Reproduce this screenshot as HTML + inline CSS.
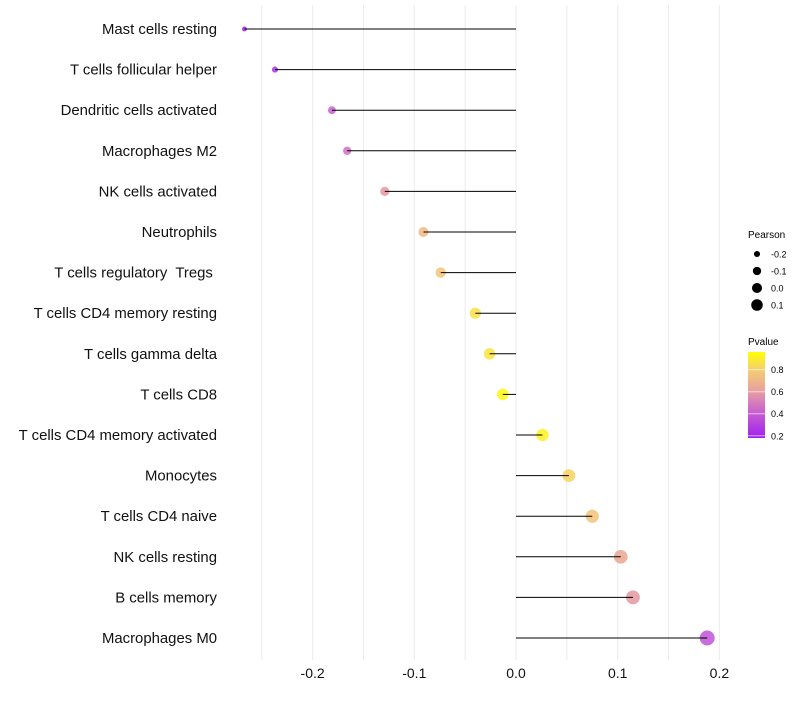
<!DOCTYPE html>
<html><head><meta charset="utf-8"><style>
body{margin:0;background:#fff;font-family:"Liberation Sans",sans-serif}
text{white-space:pre}
</style></head><body>
<svg id="chart" width="800" height="700" xmlns="http://www.w3.org/2000/svg">
<defs><linearGradient id="pg" x1="0" y1="1" x2="0" y2="0">
<stop offset="0" stop-color="#a020f0"/><stop offset="0.3" stop-color="#c860d0"/><stop offset="0.55" stop-color="#e8a0a0"/><stop offset="0.8" stop-color="#f5d070"/><stop offset="1" stop-color="#ffff00"/>
</linearGradient></defs>
<g id="grid"></g><g id="marks"></g><g id="labels"></g><g id="legend"></g>
</svg>
<script>
const categories=["Mast cells resting","T cells follicular helper","Dendritic cells activated","Macrophages M2","NK cells activated","Neutrophils","T cells regulatory  Tregs ","T cells CD4 memory resting","T cells gamma delta","T cells CD8","T cells CD4 memory activated","Monocytes","T cells CD4 naive","NK cells resting","B cells memory","Macrophages M0"];
const pearson=[-0.267,-0.237,-0.181,-0.166,-0.129,-0.091,-0.074,-0.040,-0.026,-0.013,0.026,0.052,0.075,0.103,0.115,0.188];
const pvalue=[0.12,0.18,0.35,0.4,0.55,0.7,0.75,0.88,0.9,0.97,0.95,0.82,0.75,0.62,0.55,0.3];
const xTicks=[-0.2,-0.1,0.0,0.1,0.2];
const xTickLabels=["-0.2","-0.1","0.0","0.1","0.2"];
const sizeLegend=[-0.2,-0.1,0.0,0.1];
const colorLegend=[0.2,0.4,0.6,0.8];
const NS="http://www.w3.org/2000/svg";
const x=v=>516+v*1017;
const y=i=>29+i*40.6;
const r=v=>Math.sqrt(6+Math.max(0,v+0.267)*110);
const rl=v=>Math.sqrt(4+Math.max(0,v+0.267)*80);
const stops=[[0.12,[160,32,240]],[0.35,[200,96,208]],[0.55,[228,150,160]],[0.75,[245,195,120]],[0.9,[250,228,60]],[1,[255,255,0]]];
function col(p){for(let k=1;k<stops.length;k++){if(p<=stops[k][0]){const a=stops[k-1],b=stops[k];const t=Math.max(0,(p-a[0])/(b[0]-a[0]));return "rgb("+a[1].map((c,j)=>Math.round(c+(b[1][j]-c)*t)).join(",")+")";}}return "rgb(255,255,0)";}
function mk(t,at,parent){const e=document.createElementNS(NS,t);for(const k in at)e.setAttribute(k,at[k]);document.getElementById(parent).appendChild(e);return e;}
for(let v=-0.25;v<=0.201;v+=0.05){const g=mk("line",{x1:x(v),x2:x(v),y1:5,y2:660,stroke:"#ebebeb","stroke-width":1},"grid");

}
xTicks.forEach((t,i)=>{const tx=mk("text",{x:x(t),y:678,"text-anchor":"middle","font-size":14,fill:"#111"},"labels");tx.textContent=xTickLabels[i];

});
categories.forEach((c,i)=>{
const p=mk("circle",{cx:x(pearson[i]),cy:y(i),r:r(pearson[i]),fill:col(pvalue[i]),"fill-opacity":0.85},"marks");


const l=mk("line",{x1:x(0),x2:x(pearson[i]),y1:y(i),y2:y(i),stroke:"#000","stroke-width":1},"marks");


const t=mk("text",{x:217,y:y(i)+5,"text-anchor":"end","font-size":14.9,fill:"#111"},"labels");t.textContent=c;

});
const lt=mk("text",{x:748,y:238,"font-size":10,fill:"#000"},"legend");lt.textContent="Pearson";


sizeLegend.forEach((v,i)=>{const cy=254+i*17;
const c=mk("circle",{cx:757,cy:cy,r:rl(v),fill:"#000"},"legend");


const t=mk("text",{x:771,y:cy+3.5,"font-size":9,fill:"#000"},"legend");t.textContent=v.toFixed(1);

});
const ct=mk("text",{x:748,y:345,"font-size":10,fill:"#000"},"legend");ct.textContent="Pvalue";


const bar=mk("rect",{x:748,y:352,width:17,height:86,fill:"url(#pg)"},"legend");


const cy=p=>438-(p-0.18)/(0.96-0.18)*86;
colorLegend.forEach(v=>{
const tk=mk("line",{x1:748,x2:765,y1:cy(v),y2:cy(v),stroke:"#fff","stroke-opacity":0.6},"legend");


const t=mk("text",{x:771,y:cy(v)+3.5,"font-size":9,fill:"#000"},"legend");t.textContent=v.toFixed(1);

});
</script>
</body></html>
